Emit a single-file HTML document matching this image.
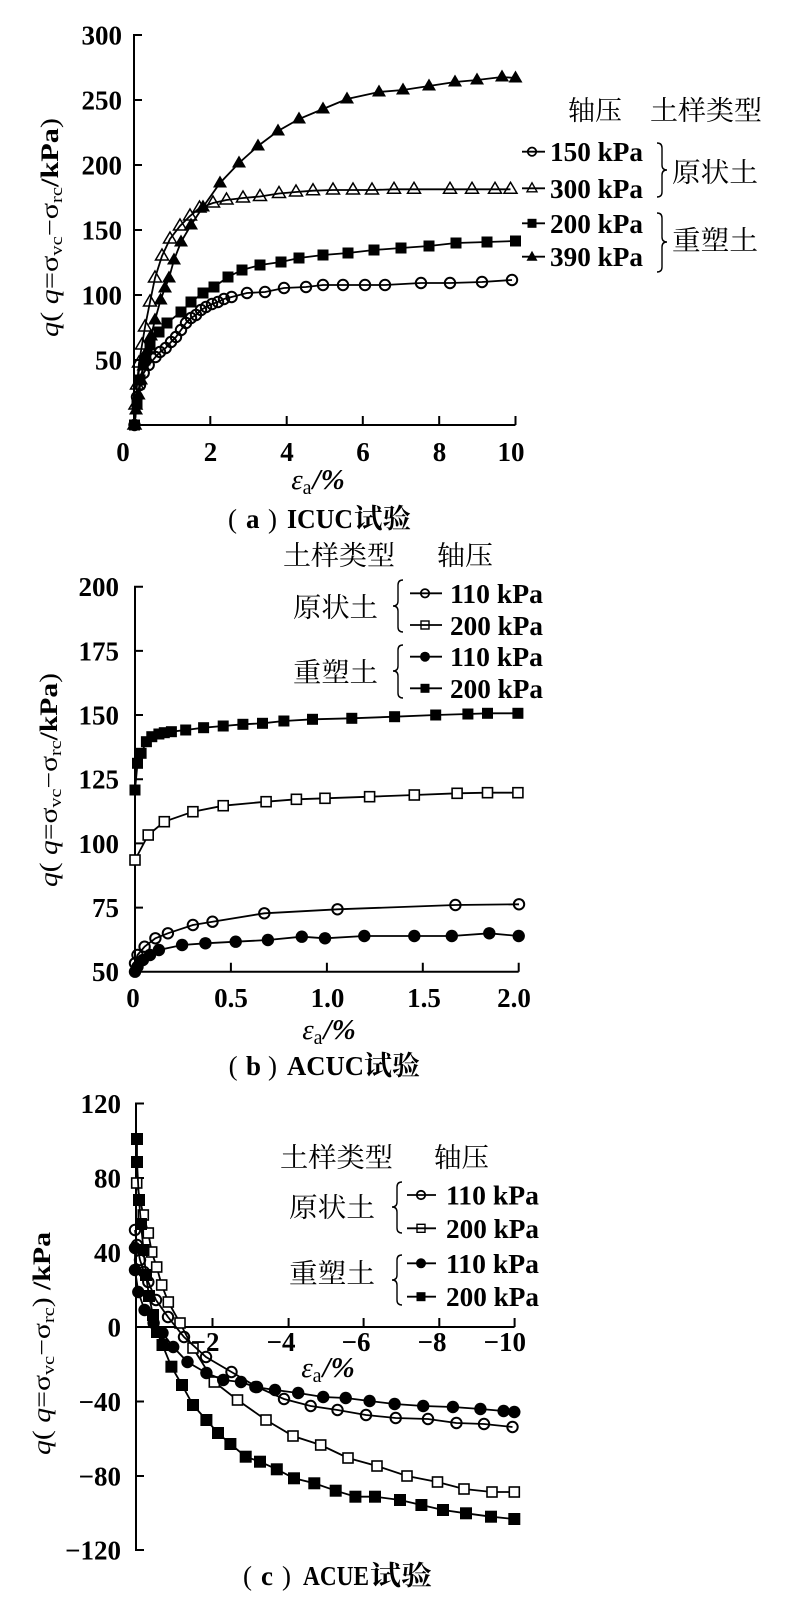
<!DOCTYPE html>
<html><head><meta charset="utf-8"><style>
html,body{margin:0;padding:0;background:#fff;}
svg{display:block;}
</style></head><body>
<svg width="793" height="1603" viewBox="0 0 793 1603" xmlns="http://www.w3.org/2000/svg" font-family="'Liberation Serif','Noto Serif CJK SC',serif">
<defs>
<marker id="m_fs" markerUnits="userSpaceOnUse" markerWidth="20" markerHeight="20" refX="10" refY="10" overflow="visible"><rect x="4.5" y="4.5" width="11" height="11" fill="#000"/></marker>
<marker id="m_fs2" markerUnits="userSpaceOnUse" markerWidth="20" markerHeight="20" refX="10" refY="10" overflow="visible"><rect x="4" y="4" width="12" height="12" fill="#000"/></marker>
<marker id="m_os" markerUnits="userSpaceOnUse" markerWidth="20" markerHeight="20" refX="10" refY="10" overflow="visible"><rect x="5" y="5" width="10" height="10" fill="#fff" stroke="#000" stroke-width="1.6"/></marker>
<marker id="m_oc" markerUnits="userSpaceOnUse" markerWidth="20" markerHeight="20" refX="10" refY="10" overflow="visible"><circle cx="10" cy="10" r="5.2" fill="none" stroke="#000" stroke-width="2"/></marker>
<marker id="m_fc" markerUnits="userSpaceOnUse" markerWidth="20" markerHeight="20" refX="10" refY="10" overflow="visible"><circle cx="10" cy="10" r="6.2" fill="#000"/></marker>
<marker id="m_ft" markerUnits="userSpaceOnUse" markerWidth="20" markerHeight="20" refX="10" refY="10" overflow="visible"><path d="M10,2.5L17,14.5L3,14.5Z" fill="#000"/></marker>
<marker id="m_ot" markerUnits="userSpaceOnUse" markerWidth="20" markerHeight="20" refX="10" refY="10" overflow="visible"><path d="M10,3L16.5,14L3.5,14Z" fill="none" stroke="#000" stroke-width="1.5"/></marker>

<marker id="l_oc" markerUnits="userSpaceOnUse" markerWidth="20" markerHeight="20" refX="10" refY="10" overflow="visible"><circle cx="10" cy="10" r="4.2" fill="none" stroke="#000" stroke-width="1.8"/></marker>
<marker id="l_os" markerUnits="userSpaceOnUse" markerWidth="20" markerHeight="20" refX="10" refY="10" overflow="visible"><rect x="6" y="6" width="8" height="8" fill="none" stroke="#000" stroke-width="1.4"/></marker>
<marker id="l_fc" markerUnits="userSpaceOnUse" markerWidth="20" markerHeight="20" refX="10" refY="10" overflow="visible"><circle cx="10" cy="10" r="5" fill="#000"/></marker>
<marker id="l_fs" markerUnits="userSpaceOnUse" markerWidth="20" markerHeight="20" refX="10" refY="10" overflow="visible"><rect x="5.5" y="5.5" width="9" height="9" fill="#000"/></marker>
<marker id="l_ft" markerUnits="userSpaceOnUse" markerWidth="20" markerHeight="20" refX="10" refY="10" overflow="visible"><path d="M10,4L15.5,14L4.5,14Z" fill="#000"/></marker>
<marker id="l_ot" markerUnits="userSpaceOnUse" markerWidth="20" markerHeight="20" refX="10" refY="10" overflow="visible"><path d="M10,4.5L15,13.5L5,13.5Z" fill="none" stroke="#000" stroke-width="1.4"/></marker>
</defs>

<!-- ================= PANEL A ================= -->
<g fill="none" stroke="#000" stroke-width="2">
<path d="M142,35H134V425H515.5"/>
<path d="M134,100h8M134,165h8M134,230h8M134,295h8M134,360h8"/>
<path d="M210.3,425v-9M286.7,425v-9M362.8,425v-9M439.2,425v-9M515.5,425v-9"/>
</g>
<g font-size="27" font-weight="bold" text-anchor="end">
<text x="122" y="44.5">300</text>
<text x="122" y="109.5">250</text>
<text x="122" y="174.5">200</text>
<text x="122" y="239.5">150</text>
<text x="122" y="304.5">100</text>
<text x="122" y="369.5">50</text>
</g>
<g font-size="27" font-weight="bold" text-anchor="middle">
<text x="123" y="461">0</text>
<text x="210.5" y="461">2</text>
<text x="287" y="461">4</text>
<text x="363" y="461">6</text>
<text x="439.5" y="461">8</text>
<text x="511" y="461">10</text>
</g>
<text transform="translate(58,227.5) rotate(-90)" text-anchor="middle" font-size="25" textLength="219" lengthAdjust="spacingAndGlyphs"><tspan font-style="italic">q</tspan>( <tspan font-style="italic">q</tspan>=σ<tspan font-size="17" dy="4">vc</tspan><tspan dy="-4">−σ</tspan><tspan font-size="17" dy="4">rc</tspan><tspan dy="-4" font-weight="bold">/kPa</tspan>)</text>
<text x="318" y="489" text-anchor="middle" font-size="29"><tspan font-style="italic">ε</tspan><tspan font-size="20" dy="5">a</tspan><tspan dy="-5" font-style="italic" font-weight="bold" dx="1">/%</tspan></text>
<text y="528" font-size="27"><tspan x="228">(</tspan><tspan x="246" font-weight="bold">a</tspan><tspan x="268">)</tspan><tspan x="287" font-weight="bold" textLength="66" lengthAdjust="spacingAndGlyphs">ICUC</tspan><tspan x="354" font-weight="bold" textLength="57" lengthAdjust="spacingAndGlyphs">试验</tspan></text>

<g fill="none" stroke="#000" stroke-width="1.8">
<polyline marker-start="url(#m_oc)" marker-mid="url(#m_oc)" marker-end="url(#m_oc)" points="134.5,425 137,397 140,385 143.7,373 148.7,365 155.5,357 160,352 165.7,348 171,342 176,337 181,330 186,323 191,318 196,315 201,310 206,307 212,304 218,302 224,299 231.6,297 247,293 265,292 284,288 306,287 323,285 343,285 365,285 385,285 421,283 450,283 482,282 512,280"/>
<polyline marker-start="url(#m_fs)" marker-mid="url(#m_fs)" marker-end="url(#m_fs)" points="134.5,425 137,403 140,380 145,360 150,345 159,332 167,323 181,312 191,302 203,293 214,287 228,277 242,270 260,265 281,262 299,258 323,255 348,253 374,250 401,248 429,246 456,243 487,242 515.5,241"/>
<polyline marker-start="url(#m_ot)" marker-mid="url(#m_ot)" marker-end="url(#m_ot)" points="134.5,425 135.5,405 137,385 139,363 142,345 145,327 150,302 155,278 162,256 170,239 180,226 190,216 199.5,208 213,203 226.5,200 243,198 260,196.5 279,193.5 296,192 313,190.7 333,190 353,190 372,190 394,189.3 414,189.3 450,189.3 472,189.3 495,189.3 510.5,189.3"/>
<polyline marker-start="url(#m_ft)" marker-mid="url(#m_ft)" marker-end="url(#m_ft)" points="134.5,425 136,410 138.6,395 141,380 143.5,366 147.7,350 151,336 155,320 160.6,300 165,288 169,278 174,260 181,242 191,225 203,207 220,183 239,163 258,146 278,131 299,119 323,109 347,99 379,92 403,90 429,86 455,82 477,80 502,77 515.5,78"/>
</g>

<!-- legend A -->
<g font-size="27">
<text x="568" y="120" textLength="54" lengthAdjust="spacingAndGlyphs">轴压</text>
<text x="650" y="120" textLength="112" lengthAdjust="spacingAndGlyphs">土样类型</text>
<text x="672" y="182" textLength="86" lengthAdjust="spacingAndGlyphs">原状土</text>
<text x="672" y="250" textLength="86" lengthAdjust="spacingAndGlyphs">重塑土</text>
</g>
<g font-size="27" font-weight="bold">
<text x="550" y="161" textLength="93" lengthAdjust="spacingAndGlyphs">150 kPa</text>
<text x="550" y="198" textLength="93" lengthAdjust="spacingAndGlyphs">300 kPa</text>
<text x="550" y="233" textLength="93" lengthAdjust="spacingAndGlyphs">200 kPa</text>
<text x="550" y="266" textLength="93" lengthAdjust="spacingAndGlyphs">390 kPa</text>
</g>
<g fill="none" stroke="#000" stroke-width="1.8">
<polyline marker-mid="url(#l_oc)" points="522,151.7 532,151.7 545,151.7"/>
<polyline marker-mid="url(#l_ot)" points="522,188.3 532,188.3 545,188.3"/>
<polyline marker-mid="url(#l_fs)" points="522,223.3 532,223.3 545,223.3"/>
<polyline marker-mid="url(#l_ft)" points="522,256.7 532,256.7 545,256.7"/>
<path stroke-width="1.4" d="M657,143Q662,143 662,148L662,165Q662,170 667,170Q662,170 662,175L662,192Q662,197 657,197"/>
<path stroke-width="1.4" d="M657,213Q662,213 662,218L662,237Q662,242 667,242Q662,242 662,247L662,267Q662,272 657,272"/>
</g>

<!-- ================= PANEL B ================= -->
<g fill="none" stroke="#000" stroke-width="2">
<path d="M143,586.7H135V971.7H518.7"/>
<path d="M135,650.9h8M135,715h8M135,779.2h8M135,843.4h8M135,907.6h8"/>
<path d="M230.9,971.7v-9M326.9,971.7v-9M422.8,971.7v-9M518.7,971.7v-9"/>
</g>
<g font-size="27" font-weight="bold" text-anchor="end">
<text x="119" y="596">200</text>
<text x="119" y="660.5">175</text>
<text x="119" y="724.5">150</text>
<text x="119" y="788.5">125</text>
<text x="119" y="853">100</text>
<text x="119" y="917">75</text>
<text x="119" y="981">50</text>
</g>
<g font-size="27" font-weight="bold" text-anchor="middle">
<text x="133" y="1007">0</text>
<text x="231" y="1007">0.5</text>
<text x="327.5" y="1007">1.0</text>
<text x="424" y="1007">1.5</text>
<text x="514" y="1007">2.0</text>
</g>
<text transform="translate(57,780) rotate(-90)" text-anchor="middle" font-size="25" textLength="214" lengthAdjust="spacingAndGlyphs"><tspan font-style="italic">q</tspan>( <tspan font-style="italic">q</tspan>=σ<tspan font-size="17" dy="4">vc</tspan><tspan dy="-4">−σ</tspan><tspan font-size="17" dy="4">rc</tspan><tspan dy="-4" font-weight="bold">/kPa</tspan>)</text>
<text x="329" y="1039" text-anchor="middle" font-size="29"><tspan font-style="italic">ε</tspan><tspan font-size="20" dy="5">a</tspan><tspan dy="-5" font-style="italic" font-weight="bold" dx="1">/%</tspan></text>
<text y="1075" font-size="27"><tspan x="228.6">(</tspan><tspan x="246" font-weight="bold">b</tspan><tspan x="268">)</tspan><tspan x="287" font-weight="bold" textLength="77" lengthAdjust="spacingAndGlyphs">ACUC</tspan><tspan x="364" font-weight="bold" textLength="56" lengthAdjust="spacingAndGlyphs">试验</tspan></text>

<g fill="none" stroke="#000" stroke-width="1.8">
<polyline marker-start="url(#m_fs)" marker-mid="url(#m_fs)" marker-end="url(#m_fs)" points="135,790 137.5,763.3 141.1,753.3 146.4,741.7 151.8,736.7 158.9,734 164.3,732.7 171.4,731.7 185.7,730 203.6,727.7 223.2,726 242.9,724.3 262.5,723.3 283.9,721 312.5,719.3 351.8,718.3 394.6,716.7 435.7,715 467.9,714 487.5,713.3 517.9,713.3"/>
<polyline marker-start="url(#m_os)" marker-mid="url(#m_os)" marker-end="url(#m_os)" points="135,860 148.2,835 164.3,821.7 192.9,811.7 223.2,805.7 266.1,801.7 296.4,799.3 325,798.3 369.6,796.7 414.3,795 457.1,793.3 487.5,792.7 517.9,792.7"/>
<polyline marker-start="url(#m_oc)" marker-mid="url(#m_oc)" marker-end="url(#m_oc)" points="135,963.3 137.5,955 144.6,946.7 155.4,938.3 167.9,933.3 192.9,925 212.5,921.7 264.3,913.3 337.5,909.3 455.4,905 519,904.3"/>
<polyline marker-start="url(#m_fc)" marker-mid="url(#m_fc)" marker-end="url(#m_fc)" points="135,971.7 137.5,966.7 142.9,960 150,955 158.9,950 182.1,945 205.4,943.3 235.7,941.7 267.9,940 301.8,936.7 325,938.3 364.3,936 414.3,936 451.8,936 489.3,933.3 518.7,936"/>
</g>

<!-- legend B -->
<g font-size="27">
<text x="283" y="565" textLength="112" lengthAdjust="spacingAndGlyphs">土样类型</text>
<text x="437" y="565" textLength="56" lengthAdjust="spacingAndGlyphs">轴压</text>
<text x="293" y="617" textLength="85" lengthAdjust="spacingAndGlyphs">原状土</text>
<text x="293" y="682" textLength="85" lengthAdjust="spacingAndGlyphs">重塑土</text>
</g>
<g font-size="27" font-weight="bold">
<text x="450" y="603" textLength="93" lengthAdjust="spacingAndGlyphs">110 kPa</text>
<text x="450" y="635" textLength="93" lengthAdjust="spacingAndGlyphs">200 kPa</text>
<text x="450" y="666" textLength="93" lengthAdjust="spacingAndGlyphs">110 kPa</text>
<text x="450" y="698" textLength="93" lengthAdjust="spacingAndGlyphs">200 kPa</text>
</g>
<g fill="none" stroke="#000" stroke-width="1.8">
<polyline marker-mid="url(#l_oc)" points="410,593.3 425,593.3 442,593.3"/>
<polyline marker-mid="url(#l_os)" points="410,625 425,625 442,625"/>
<polyline marker-mid="url(#l_fc)" points="410,656.7 425,656.7 442,656.7"/>
<polyline marker-mid="url(#l_fs)" points="410,688.3 425,688.3 442,688.3"/>
<path stroke-width="1.4" d="M403,580Q398,580 398,585L398,601Q398,606 393,606Q398,606 398,611L398,627Q398,632 403,632"/>
<path stroke-width="1.4" d="M403,645Q398,645 398,650L398,666Q398,671 393,671Q398,671 398,676L398,693Q398,698 403,698"/>
</g>

<!-- ================= PANEL C ================= -->
<g fill="none" stroke="#000" stroke-width="2">
<path d="M144,1103.5H136V1550H144"/>
<path d="M136,1327H514.6"/>
<path d="M136,1178h8M136,1252.5h8M136,1401.5h8M136,1476h8"/>
<path d="M212.5,1327v-9M288.6,1327v-9M363.6,1327v-9M439.3,1327v-9M514.6,1327v-9"/>
</g>
<g font-size="27" font-weight="bold" text-anchor="end">
<text x="121" y="1113">120</text>
<text x="121" y="1187.5">80</text>
<text x="121" y="1262">40</text>
<text x="121" y="1336.5">0</text>
<text x="121" y="1411">−40</text>
<text x="121" y="1485.5">−80</text>
<text x="121" y="1559.5">−120</text>
</g>
<g font-size="27" font-weight="bold" text-anchor="end">
<text x="219.5" y="1351">−2</text>
<text x="295.5" y="1351">−4</text>
<text x="370.5" y="1351">−6</text>
<text x="446.5" y="1351">−8</text>
<text x="526" y="1351">−10</text>
</g>
<text transform="translate(50,1343.5) rotate(-90)" text-anchor="middle" font-size="25" textLength="223" lengthAdjust="spacingAndGlyphs"><tspan font-style="italic">q</tspan>( <tspan font-style="italic">q</tspan>=σ<tspan font-size="17" dy="4">vc</tspan><tspan dy="-4">−σ</tspan><tspan font-size="17" dy="4">rc</tspan><tspan dy="-4">) </tspan><tspan font-weight="bold">/kPa</tspan></text>
<text x="328" y="1377" text-anchor="middle" font-size="29"><tspan font-style="italic">ε</tspan><tspan font-size="20" dy="5">a</tspan><tspan dy="-5" font-style="italic" font-weight="bold" dx="1">/%</tspan></text>
<text y="1585" font-size="27"><tspan x="243">(</tspan><tspan x="261" font-weight="bold">c</tspan><tspan x="282">)</tspan><tspan x="303" font-weight="bold" textLength="66" lengthAdjust="spacingAndGlyphs">ACUE</tspan><tspan x="370" font-weight="bold" textLength="62" lengthAdjust="spacingAndGlyphs">试验</tspan></text>

<g fill="none" stroke="#000" stroke-width="1.8">
<polyline marker-start="url(#m_os)" marker-mid="url(#m_os)" marker-end="url(#m_os)" points="136.7,1183 143.3,1215 148.3,1233 151.7,1252 156.7,1267 161.7,1285 168.3,1302 180,1323 193,1348 214.3,1382 237.5,1400 266,1420 293,1436 320.7,1445 348,1458 377,1466 407,1476 437.5,1482 464,1489 492,1492 514.3,1492"/>
<polyline marker-start="url(#m_oc)" marker-mid="url(#m_oc)" marker-end="url(#m_oc)" points="135,1230 137,1245 140,1260 144,1272 148.3,1282 156,1300 168,1317 184,1337 206,1357 231.5,1372 257,1387 284,1399 310.7,1406 337.5,1410 366,1415 395.7,1418 428,1419 456.4,1423 484,1424 512.5,1427"/>
<polyline marker-start="url(#m_fc)" marker-mid="url(#m_fc)" marker-end="url(#m_fc)" points="135,1248 135,1270 138.3,1292 144.6,1310 153.6,1323 162.5,1333 173.2,1347 187.5,1362 206.4,1373 223.2,1380 241,1382 255.4,1387 275,1390 298.2,1393 323.2,1397 345.7,1398 369.6,1401 394.6,1404 423.2,1406 452.9,1407 480.4,1409 503.6,1411 514.3,1412"/>
<polyline marker-start="url(#m_fs2)" marker-mid="url(#m_fs2)" marker-end="url(#m_fs2)" points="137,1139 137,1162 139,1200 141,1224 143.5,1250 146,1275 149,1296 153,1315 157,1332 162.5,1345 171.4,1366.7 182,1385 193,1405 206.4,1420 218,1433 230.4,1444 245.7,1456.7 260,1461.7 276.8,1469.3 294,1478.3 314.3,1483.3 335.7,1490.7 355.4,1496.7 375,1496.7 400,1500 421.4,1505 443,1510 466,1513.3 491,1516.7 514.3,1519"/>
</g>

<!-- legend C -->
<g font-size="27">
<text x="280" y="1167" textLength="113" lengthAdjust="spacingAndGlyphs">土样类型</text>
<text x="434" y="1167" textLength="55" lengthAdjust="spacingAndGlyphs">轴压</text>
<text x="289" y="1217" textLength="86" lengthAdjust="spacingAndGlyphs">原状土</text>
<text x="289" y="1283" textLength="86" lengthAdjust="spacingAndGlyphs">重塑土</text>
</g>
<g font-size="27" font-weight="bold">
<text x="446" y="1204.5" textLength="93" lengthAdjust="spacingAndGlyphs">110 kPa</text>
<text x="446" y="1238" textLength="93" lengthAdjust="spacingAndGlyphs">200 kPa</text>
<text x="446" y="1273" textLength="93" lengthAdjust="spacingAndGlyphs">110 kPa</text>
<text x="446" y="1306" textLength="93" lengthAdjust="spacingAndGlyphs">200 kPa</text>
</g>
<g fill="none" stroke="#000" stroke-width="1.8">
<polyline marker-mid="url(#l_oc)" points="407,1195 421,1195 436,1195"/>
<polyline marker-mid="url(#l_os)" points="407,1228.3 421,1228.3 436,1228.3"/>
<polyline marker-mid="url(#l_fc)" points="407,1263.3 421,1263.3 436,1263.3"/>
<polyline marker-mid="url(#l_fs)" points="407,1296.7 421,1296.7 436,1296.7"/>
<path stroke-width="1.4" d="M402,1182Q397,1182 397,1187L397,1202Q397,1207 392,1207Q397,1207 397,1212L397,1228Q397,1233 402,1233"/>
<path stroke-width="1.4" d="M402,1255Q397,1255 397,1260L397,1275Q397,1280 392,1280Q397,1280 397,1285L397,1300Q397,1305 402,1305"/>
</g>
</svg>
</body></html>
